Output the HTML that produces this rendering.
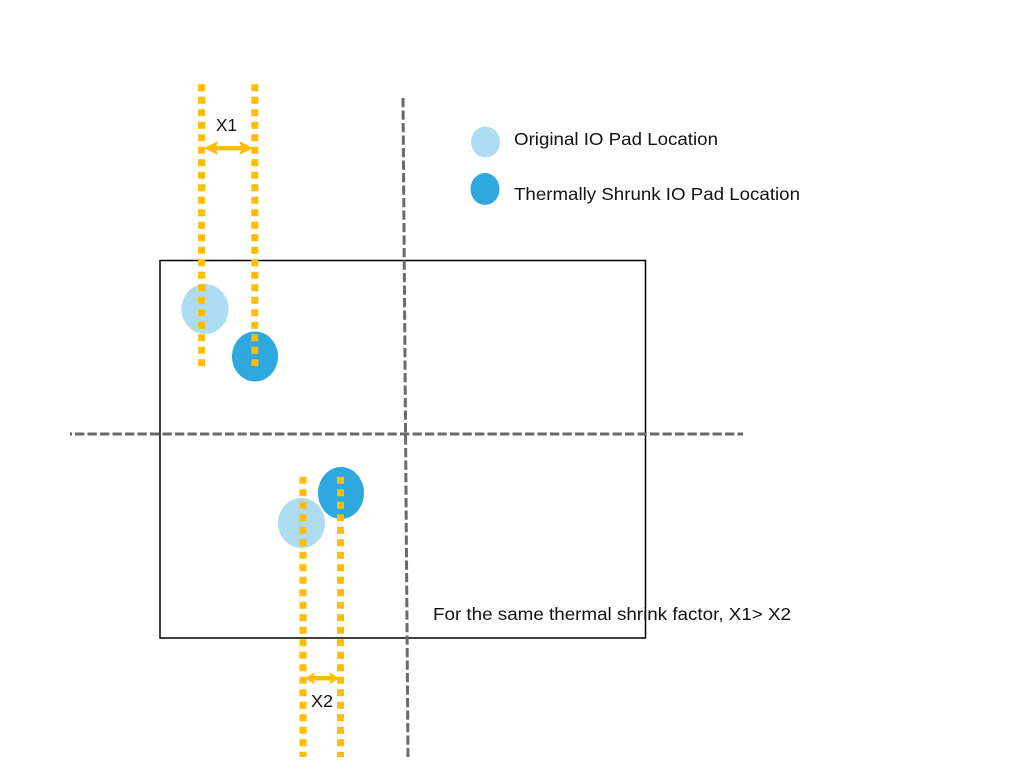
<!DOCTYPE html>
<html><head><meta charset="utf-8"><style>
html,body{margin:0;padding:0;background:#fff;width:1013px;height:770px;overflow:hidden}
svg{display:block}
text{font-family:"Liberation Sans",sans-serif;font-size:17.5px;fill:#111}
</style></head><body>
<svg width="1013" height="770" viewBox="0 0 1013 770" xmlns="http://www.w3.org/2000/svg">
<rect x="160" y="260.5" width="485.5" height="377.5" fill="none" stroke="#000" stroke-width="1.5"/>
<ellipse cx="205" cy="309" rx="23.5" ry="25" fill="#aedcf2"/>
<ellipse cx="255" cy="356.5" rx="23" ry="25" fill="#2fa8e0"/>
<ellipse cx="341" cy="493" rx="23" ry="26" fill="#2fa8e0"/>
<ellipse cx="301.5" cy="523" rx="23.5" ry="25" fill="#aedcf2"/>
<ellipse cx="485.5" cy="142" rx="14.5" ry="15.5" fill="#aedcf2"/>
<ellipse cx="485" cy="189" rx="14.5" ry="16" fill="#2fa8e0"/>
<g stroke="#6a6a6a" stroke-width="3" fill="none" stroke-dasharray="9.3 3.2">
<line x1="403" y1="98" x2="408" y2="757"/>
<line x1="75" y1="434" x2="743" y2="434"/>
</g>
<line x1="70" y1="434" x2="72" y2="434" stroke="#666" stroke-width="3"/>
<g stroke="#ffbc00" stroke-width="7" fill="none" stroke-dasharray="7 5.5">
<line x1="201.6" y1="84.3" x2="201.6" y2="366"/>
<line x1="254.8" y1="84.3" x2="254.8" y2="366"/>
<line x1="303" y1="476.7" x2="303" y2="757"/>
<line x1="340.5" y1="476.7" x2="340.5" y2="757"/>
</g>
<g fill="#ffbc00">
<rect x="212" y="146" width="33" height="4.5"/>
<polygon points="204,148.2 218,141 215,148.2 218,155"/>
<polygon points="253,148.2 239,141 242,148.2 239,155"/>
<rect x="311" y="676" width="22" height="4.5"/>
<polygon points="305,678.2 315,672 313,678.2 315,684.5"/>
<polygon points="339,678.2 329,672 331,678.2 329,684.5"/>
</g>
<text x="216" y="131" textLength="21" lengthAdjust="spacingAndGlyphs">X1</text>
<text x="311" y="707" textLength="22" lengthAdjust="spacingAndGlyphs">X2</text>
<text x="514" y="145" textLength="204" lengthAdjust="spacingAndGlyphs">Original IO Pad Location</text>
<text x="514" y="200" textLength="286" lengthAdjust="spacingAndGlyphs">Thermally Shrunk IO Pad Location</text>
<text x="433" y="620" textLength="358" lengthAdjust="spacingAndGlyphs">For the same thermal shrink factor, X1&gt; X2</text>
</svg>
</body></html>
